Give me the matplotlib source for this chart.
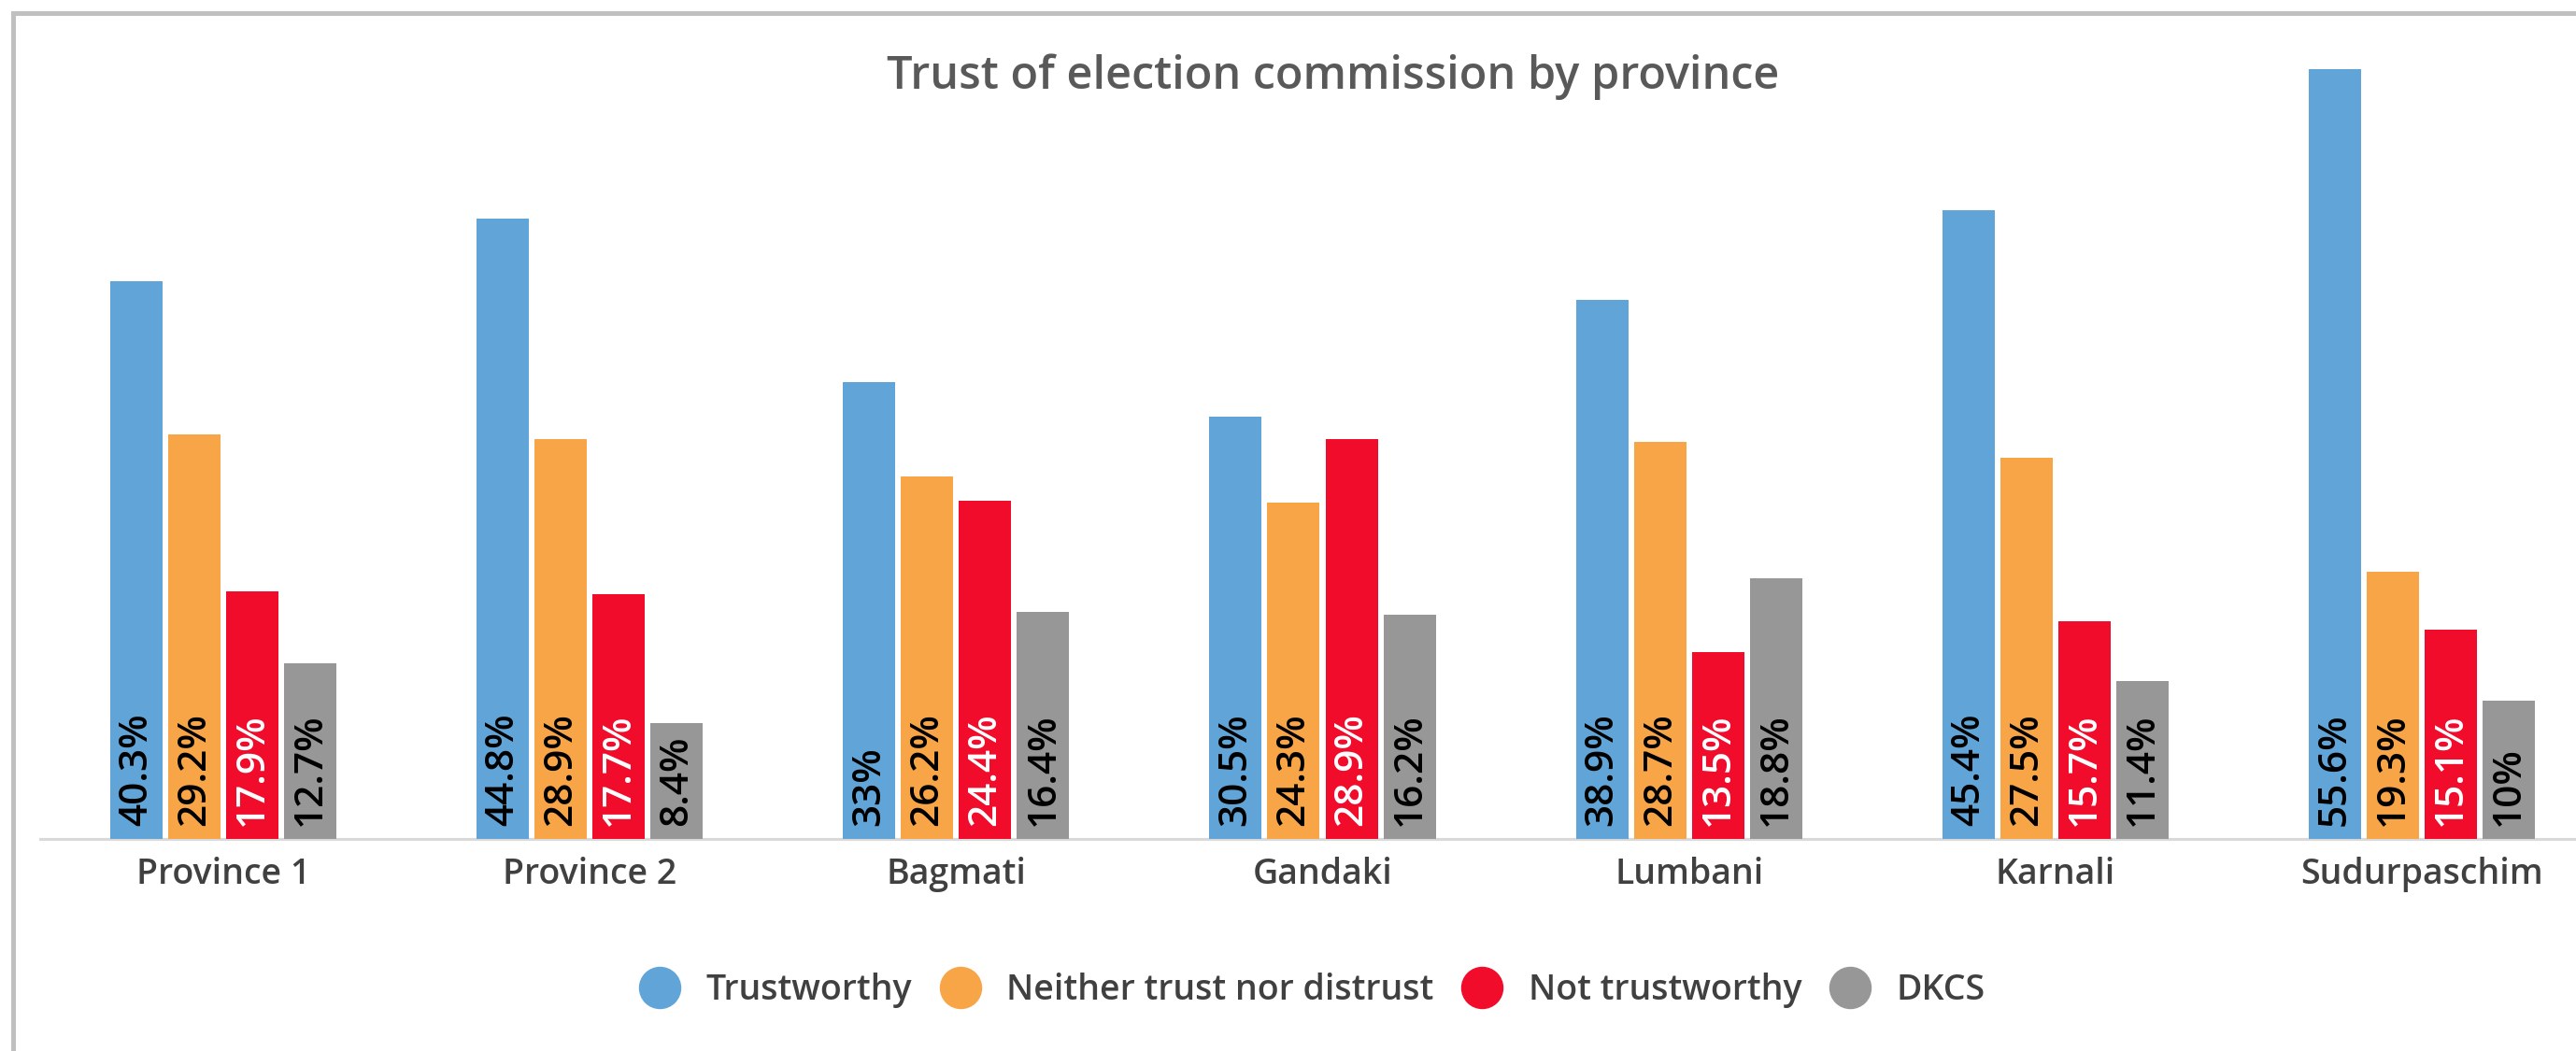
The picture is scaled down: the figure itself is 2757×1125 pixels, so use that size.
import matplotlib
matplotlib.use("Agg")
import matplotlib.pyplot as plt
from matplotlib.lines import Line2D
import numpy as np

categories = ["Province 1", "Province 2", "Bagmati", "Gandaki", "Lumbani", "Karnali", "Sudurpaschim"]
series_names = ["Trustworthy", "Neither trust nor distrust", "Not trustworthy", "DKCS"]
trustworthy = [40.3, 44.8, 33.0, 30.5, 38.9, 45.4, 55.6]
neither = [29.2, 28.9, 26.2, 24.3, 28.7, 27.5, 19.3]
not_trustworthy = [17.9, 17.7, 24.4, 28.9, 13.5, 15.7, 15.1]
dkcs = [12.7, 8.4, 16.4, 16.2, 18.8, 11.4, 10.0]
value_labels = [
    ["40.3%", "44.8%", "33%", "30.5%", "38.9%", "45.4%", "55.6%"],
    ["29.2%", "28.9%", "26.2%", "24.3%", "28.7%", "27.5%", "19.3%"],
    ["17.9%", "17.7%", "24.4%", "28.9%", "13.5%", "15.7%", "15.1%"],
    ["12.7%", "8.4%", "16.4%", "16.2%", "18.8%", "11.4%", "10%"],
]
title = "Trust of election commission by province"

colors = ["#61A5D8", "#F8A548", "#F00C2A", "#979797"]
label_colors = ["black", "black", "white", "black"]

plt.rcParams['font.family'] = ['Open Sans', 'DejaVu Sans']

W, H = 2757, 1125
dpi = 100
fig = plt.figure(figsize=(W / dpi, H / dpi), dpi=dpi)
fig.patch.set_facecolor("white")

ax_left, ax_right = 43, 2788
base_y, top_y = 898, 74
ax = fig.add_axes([ax_left / W, 1 - base_y / H, (ax_right - ax_left) / W, (base_y - top_y) / H])

data = [trustworthy, neither, not_trustworthy, dkcs]
x = np.arange(len(categories))
step = 62 / 392
width = 56 / 392
for k, vals in enumerate(data):
    pos = x + (k - 1.5) * step
    ax.bar(pos, vals, width=width, color=colors[k], zorder=3, label=series_names[k])
    for xi, lab in zip(pos, value_labels[k]):
        ax.annotate(lab, (xi, 0), xytext=(0, 10.0), textcoords="offset points",
                    rotation=90, ha="center", va="bottom", fontsize=30.5, fontweight="semibold",
                    color=label_colors[k], zorder=4)

ax.set_xlim(-0.5, len(categories) - 0.5)
ax.set_ylim(0, 55.6)
for s in ["left", "right", "top"]:
    ax.spines[s].set_visible(False)
ax.spines["bottom"].set_color("#D9D9D9")
ax.spines["bottom"].set_linewidth(2.2)
ax.spines["bottom"].set_zorder(2)
ax.set_yticks([])
ax.set_xticks(x)
ax.set_xticklabels(categories, fontsize=27, color="#404040", fontweight="semibold")
ax.tick_params(axis="x", length=0, pad=14)
ax.set_facecolor("none")

fig.text(1427 / W, 1 - 95 / H, title, ha="center", va="baseline", fontsize=35,
         color="#595959", fontweight="semibold")

handles = [Line2D([0], [0], marker="o", linestyle="none", markersize=31.7,
                  markerfacecolor=c, markeredgecolor=c) for c in colors]
leg = fig.legend(handles, series_names, loc="center", ncol=4, frameon=False,
                 bbox_to_anchor=(1406 / W, 1 - 1060 / H), bbox_transform=fig.transFigure,
                 prop={"size": 27, "weight": "semibold"}, handlelength=1.0,
                 handletextpad=0.82, columnspacing=0.88, labelcolor="#404040")

# outer chart border (top and left visible)
fig.add_artist(Line2D([13.5 / W, 13.5 / W], [0, 1 - 13.5 / H], transform=fig.transFigure,
                      color="#C0C0C0", linewidth=3.6, solid_capstyle="projecting"))
fig.add_artist(Line2D([13.5 / W, 1], [1 - 13.5 / H, 1 - 13.5 / H], transform=fig.transFigure,
                      color="#C0C0C0", linewidth=3.6, solid_capstyle="projecting"))

fig.savefig("out.png", dpi=dpi)
